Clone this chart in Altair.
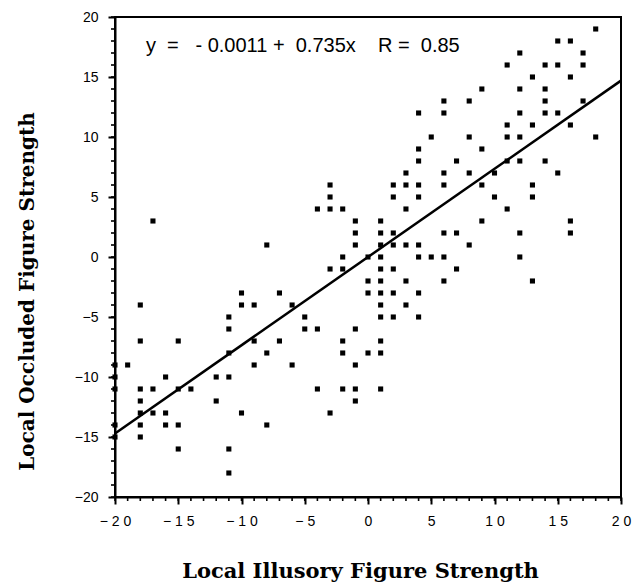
import altair as alt
import pandas as pd

# Scatter points (x = local illusory figure strength, y = local occluded figure strength)
x_vals = [18, 15, 16, 12, 17, 11, 14, 15, 17, 13, 16, 9, 12, 14, 6, 8, 14, 17, 4, 6, 12, 14, 15,
          11, 13, 16, 5, 8, 11, 12, 18, 4, 9, 4, 7, 11, 12, 14, 3, 6, 8, 10, 15,
          2, 3, 4, 6, 9, 13, 2, 4, 10, 13, 3, 11, 1, 9, 16, 1, 2, 6, 7, 12, 16, 1, 2, 3, 4, 8,
          -17, -8, -3, -3, -4, -3, -2, -1, -1, -1,
          1, 4, 5, 6, 12, 1, 2, 7, 0, 1, 3, 6, 13, 0, 1, 2, 4, 1, 3, 1, 2, 4, 1, 0, 1, 1,
          -2, 0, -3, -2, -10, -7, -18, -10, -9, -6, -11, -5, -11, -5, -4, -1,
          -18, -15, -9, -7, -2, -11, -8, -2, -20, -19, -9, -6, -1, -20, -16, -12, -11,
          -20, -18, -17, -15, -14, -4, -2, -1, -18, -12, -1, -18, -17, -16, -10, -3,
          -20, -18, -16, -15, -8, -20, -18, -15, -11, -11]
y_vals = [19, 18, 18, 17, 17, 16, 16, 16, 16, 15, 15, 14, 14, 14, 13, 13, 13, 13, 12, 12, 12, 12, 12,
          11, 11, 11, 10, 10, 10, 10, 10, 9, 9, 8, 8, 8, 8, 8, 7, 7, 7, 7, 7,
          6, 6, 6, 6, 6, 6, 5, 5, 5, 5, 4, 4, 3, 3, 3, 2, 2, 2, 2, 2, 2, 1, 1, 1, 1, 1,
          3, 1, 6, 5, 4, 4, 4, 3, 2, 1,
          0, 0, 0, 0, 0, -1, -1, -1, -2, -2, -2, -2, -2, -3, -3, -3, -3, -4, -4, -5, -5, -5, -7, -8, -8, -11,
          0, 0, -1, -1, -3, -3, -4, -4, -4, -4, -5, -5, -6, -6, -6, -6,
          -7, -7, -7, -7, -7, -8, -8, -8, -9, -9, -9, -9, -9, -10, -10, -10, -10,
          -11, -11, -11, -11, -11, -11, -11, -11, -12, -12, -12, -13, -13, -13, -13, -13,
          -14, -14, -14, -14, -14, -15, -15, -16, -16, -18]

# Regression fit reported on the chart
intercept = -0.0011
slope = 0.735
r_value = 0.85
fit_x = [-20, 20]

major_ticks = list(range(-20, 21, 5))
minor_ticks = list(range(-20, 21, 1))

pts = pd.DataFrame({"x": x_vals, "y": y_vals})
fit = pd.DataFrame({"x": fit_x, "y": [intercept + slope * v for v in fit_x]})
minor = pd.DataFrame({"v": minor_ticks})

W, H = 506, 480
scale_x = alt.Scale(domain=[-20, 20], nice=False, zero=False)
scale_y = alt.Scale(domain=[-20, 20], nice=False, zero=False)

x_axis = alt.Axis(values=major_ticks, orient="bottom", grid=False, ticks=True, tickSize=7,
                  tickWidth=2, tickColor="black",
                  domainColor="black", domainWidth=2, labelFlush=False,
                  labelFont="Liberation Sans", labelFontSize=14, labelColor="black", labelPadding=10,
                  labelExpr="replace(datum.label, regexp('(.)(?=.)', 'g'), '$1 ')",
                  title="Local Illusory Figure Strength", titleFont="DejaVu Serif",
                  titleFontWeight="bold", titleFontSize=21, titleColor="black",
                  titleX=245, titleY=80, titleAlign="center", titleBaseline="alphabetic")
y_axis = alt.Axis(values=major_ticks, orient="left", grid=False, ticks=True, tickSize=7,
                  tickWidth=2, tickColor="black",
                  domainColor="black", domainWidth=2, labelFlush=False,
                  labelFont="Liberation Sans", labelFontSize=14, labelColor="black", labelPadding=10,
                  title="Local Occluded Figure Strength", titleFont="DejaVu Serif",
                  titleFontWeight="bold", titleFontSize=20, titleColor="black",
                  titleX=-82, titleY=274, titleAngle=270, titleAlign="center",
                  titleBaseline="alphabetic")

points = alt.Chart(pts).mark_square(size=26, color="black", opacity=1).encode(
    x=alt.X("x:Q", scale=scale_x, axis=x_axis),
    y=alt.Y("y:Q", scale=scale_y, axis=y_axis),
)

line = alt.Chart(fit).mark_line(color="black", strokeWidth=2.5).encode(
    x=alt.X("x:Q", scale=scale_x),
    y=alt.Y("y:Q", scale=scale_y),
)

# minor tick marks every unit, just outside the frame
x_minor = alt.Chart(minor).mark_rule(color="black", strokeWidth=1.6).encode(
    x=alt.X("v:Q", scale=scale_x), y=alt.value(H), y2=alt.value(H + 4))
y_minor = alt.Chart(minor).mark_rule(color="black", strokeWidth=1.6).encode(
    y=alt.Y("v:Q", scale=scale_y), x=alt.value(0), x2=alt.value(-4))

nb = "\u00a0"
eq_text = ("y" + nb * 2 + "=" + nb * 3 + "-" + nb + f"{abs(intercept):.4f}" + nb + "+" + nb * 2
           + f"{slope:.3f}" + "x" + nb * 4 + "R" + nb + "=" + nb * 2 + f"{r_value:.2f}")
label = alt.Chart(pd.DataFrame({"t": [eq_text]})).mark_text(
    align="left", baseline="alphabetic", font="Liberation Sans", fontSize=20, color="black"
).encode(x=alt.value(31), y=alt.value(35), text="t:N")

chart = alt.layer(points, line, x_minor, y_minor, label).properties(
    width=W, height=H,
    padding={"left": 115, "top": 17, "right": 11, "bottom": 90},
    autosize=alt.AutoSizeParams(type="none"),
    background="white",
).configure_view(stroke="black", strokeWidth=2)

chart.save("out.html", embed_options={"renderer": "svg", "actions": False})
